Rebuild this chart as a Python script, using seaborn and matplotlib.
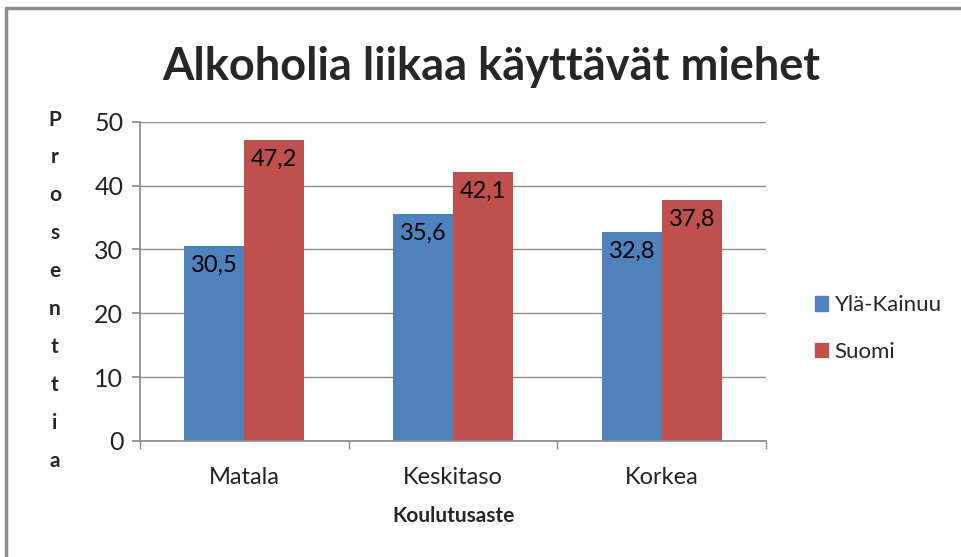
import matplotlib
matplotlib.use('Agg')
import matplotlib.pyplot as plt
import matplotlib.patches as mpatches
import pandas as pd
import seaborn as sns

# data
categories = ['Matala', 'Keskitaso', 'Korkea']
series = ['Ylä-Kainuu', 'Suomi']
yla_kainuu = [30.5, 35.6, 32.8]
suomi = [47.2, 42.1, 37.8]
yticks = [0, 10, 20, 30, 40, 50]

df = pd.DataFrame({
    'Koulutusaste': categories * 2,
    'Sarja': [series[0]] * 3 + [series[1]] * 3,
    'Arvo': yla_kainuu + suomi,
})

sns.set_theme(style='white')
plt.rcParams['font.family'] = ['Lato', 'DejaVu Sans']

fig = plt.figure(figsize=(9.62, 5.57), dpi=100)
ax = fig.add_axes([0.1455, 0.2083, 0.651, 0.573])

palette = {'Ylä-Kainuu': '#4F81BD', 'Suomi': '#C0504D'}
sns.barplot(data=df, x='Koulutusaste', y='Arvo', hue='Sarja', order=categories,
            hue_order=series, palette=palette, width=0.574, saturation=1,
            linewidth=0, ax=ax, legend=False)

for cont in ax.containers:
    for b in cont:
        lab = f'{b.get_height():.1f}'.replace('.', ',')
        ax.annotate(lab, (b.get_x() + b.get_width() / 2, b.get_height()),
                    xytext=(0, -9), textcoords='offset pixels',
                    ha='center', va='top', fontsize=17, color='black')

ax.set_ylim(0, 50)
ax.set_xlim(-0.5, 2.5)
ax.set_yticks(yticks)
ax.yaxis.grid(True, color='#8c8c8c', linewidth=1)
ax.set_axisbelow(True)
for s in ['top', 'right']:
    ax.spines[s].set_visible(False)
for s in ['left', 'bottom']:
    ax.spines[s].set_color('#8c8c8c')
ax.tick_params(axis='y', left=True, length=6, color='#8c8c8c', labelsize=18,
               labelcolor='#222222', pad=6)
ax.set_xticks([0, 1, 2])
ax.set_xticklabels(categories)
ax.set_xticks([-0.5, 0.5, 1.5, 2.5], minor=True)
ax.tick_params(axis='x', which='major', bottom=False, labelsize=17,
               labelcolor='#222222', pad=13)
ax.tick_params(axis='x', which='minor', bottom=True, length=6, color='#8c8c8c')
ax.set_xlabel('Koulutusaste', fontsize=15, fontweight='bold', labelpad=13)
ax.set_ylabel('')

fig.text(0.057, 0.479, '\n'.join('Prosenttia'), ha='center', va='center',
         fontsize=15, fontweight='bold', linespacing=2.12)
fig.text(0.511, 0.88, 'Alkoholia liikaa käyttävät miehet', ha='center',
         va='center', fontsize=32.5, fontweight='bold')

handles = [mpatches.Patch(color=palette[s], label=s) for s in series]
fig.legend(handles=handles, loc='center left', bbox_to_anchor=(0.826, 0.41),
           frameon=False, fontsize=16, handlelength=0.6, handleheight=0.6,
           handletextpad=0.3, labelspacing=1.2)

# chart border (top and left edges visible)
fig.add_artist(plt.Line2D([0.006, 1.0], [0.985, 0.985], color='#8c8c8c',
                          linewidth=2.5, transform=fig.transFigure))
fig.add_artist(plt.Line2D([0.006, 0.006], [0.0, 0.985], color='#8c8c8c',
                          linewidth=2.5, transform=fig.transFigure))

fig.savefig('out.png', dpi=100, facecolor='white')
